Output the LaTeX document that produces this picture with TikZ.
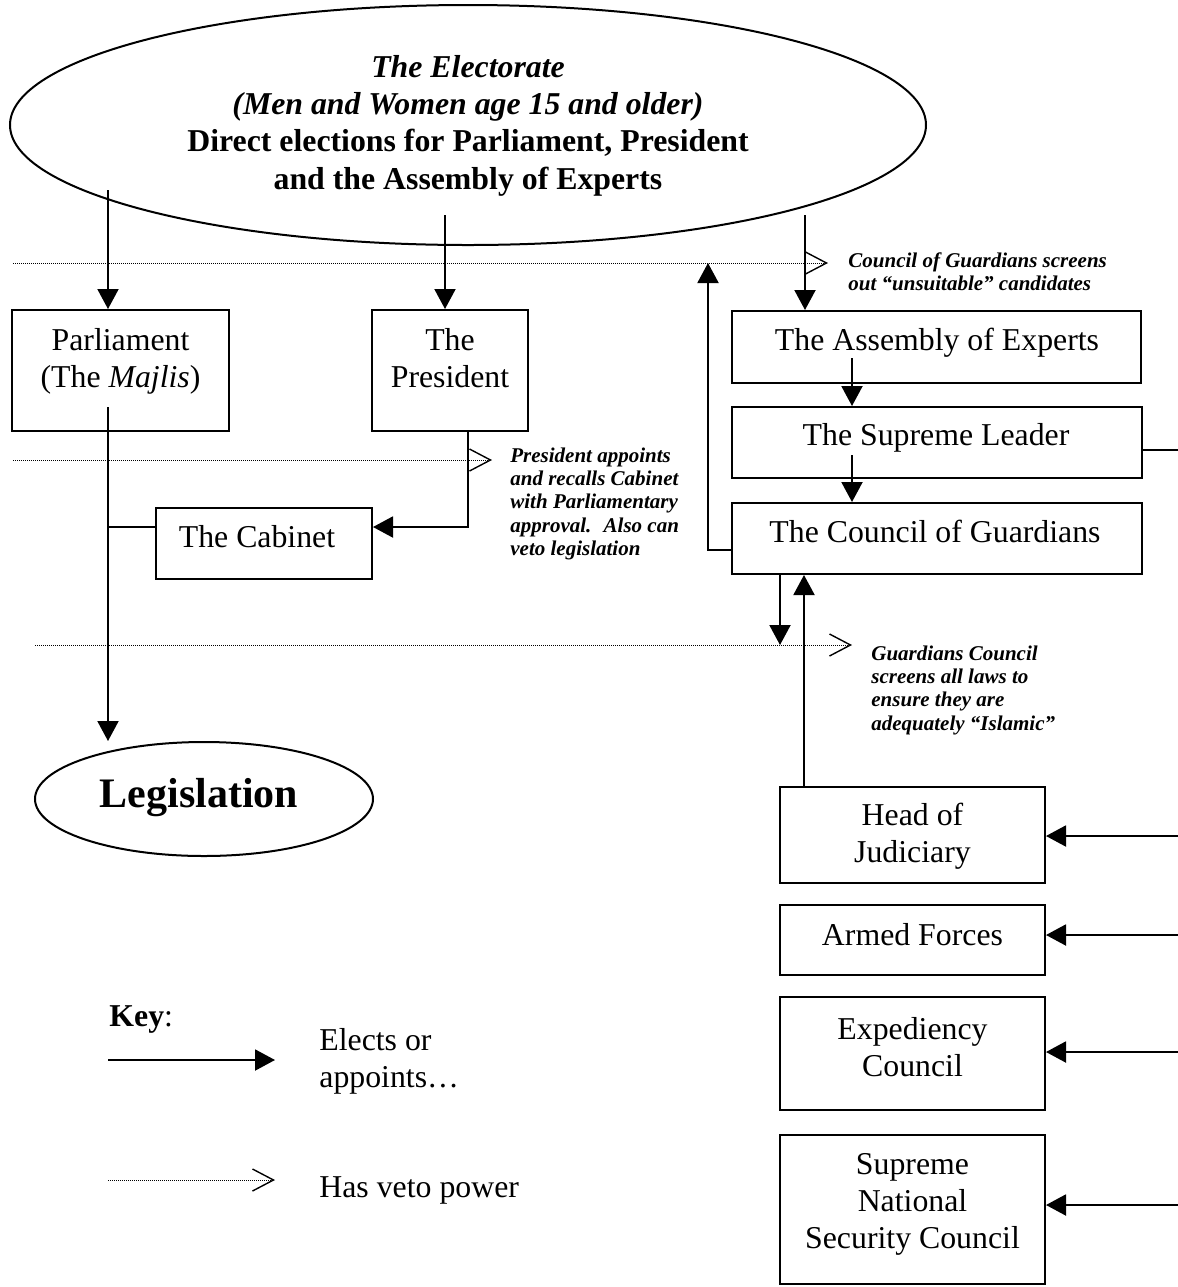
\documentclass[tikz,border=0pt]{standalone}
\usepackage{fontspec}
\setmainfont{Liberation Serif}
\usetikzlibrary{arrows.meta,shapes.geometric}
\newcommand{\mlc}[1]{\begin{tabular}[t]{@{}c@{}}#1\end{tabular}}
\newcommand{\mll}[1]{\begin{tabular}[t]{@{}l@{}}#1\end{tabular}}
\begin{document}
\begin{tikzpicture}[x=0.5pt,y=-0.5pt,
  box/.style={draw, line width=1pt, rectangle, inner sep=0pt},
  oval/.style={draw, line width=1pt, ellipse, inner sep=0pt},
  lbl/.style={anchor=base, inner sep=0pt, font=\fontsize{15.9pt}{18.7pt}\selectfont},
  lbll/.style={anchor=base west, inner sep=0pt, font=\fontsize{15.9pt}{18.7pt}\selectfont},
  note/.style={anchor=base west, inner sep=0pt, font=\fontsize{10.5pt}{11.7pt}\selectfont\bfseries\itshape},
  conn/.style={line width=1pt},
  arr/.style={line width=1pt, -{Triangle[length=10pt,width=10.5pt]}},
  veto/.style={line width=0.5pt, dash pattern=on 0.5pt off 0.5pt, -{Straight Barb[length=10.5pt,width=11pt,line width=0.7pt]}}
]
\useasboundingbox (0,0) rectangle (1178,1287);

% ellipses
\node[oval, minimum width=458pt, minimum height=120pt] (elec) at (468,125) {};
\node[oval, minimum width=169pt, minimum height=57pt] (legis) at (204,799) {};

% boxes
\node[box, minimum width=108.5pt, minimum height=60.5pt] (parl) at (120.5,370.5) {};
\node[box, minimum width=78pt, minimum height=60.5pt] (pres) at (450,370.5) {};
\node[box, minimum width=108pt, minimum height=35.5pt] (cab) at (264,543.5) {};
\node[box, minimum width=204.5pt, minimum height=36pt] (aoe) at (936.5,347) {};
\node[box, minimum width=205pt, minimum height=35.5pt] (sl) at (937,442.5) {};
\node[box, minimum width=205pt, minimum height=35.5pt] (cog) at (937,538.5) {};
\node[box, minimum width=132.5pt, minimum height=48pt] (hoj) at (912.5,835) {};
\node[box, minimum width=132.5pt, minimum height=35pt] (af) at (912.5,940) {};
\node[box, minimum width=132.5pt, minimum height=56.5pt] (ec) at (912.5,1053.5) {};
\node[box, minimum width=132.5pt, minimum height=74.5pt] (snsc) at (912.5,1209.5) {};

% texts
\node[lbl] (elect) at (468,77) {\mlc{\bfseries\itshape The Electorate\\
  \bfseries\itshape (Men and Women age 15 and older)\\
  \bfseries Direct elections for Parliament, President\\
  \bfseries and the Assembly of Experts}};
\node[lbl] (parlt) at (120.5,350) {\mlc{Parliament\\(The \textit{Majlis})}};
\node[lbl] (prest) at (450,350) {\mlc{The\\President}};
\node[lbl] (cabt) at (257,547) {The Cabinet};
\node[lbl] (aoet) at (937,350) {The Assembly of Experts};
\node[lbl] (slt) at (936,445) {The Supreme Leader};
\node[lbl] (cogt) at (935,542) {The Council of Guardians};
\node[lbl] (hojt) at (912.5,825) {\mlc{Head of\\Judiciary}};
\node[lbl] (aft) at (912.5,945) {Armed Forces};
\node[lbl] (ect) at (912.5,1039) {\mlc{Expediency\\Council}};
\node[lbl] (snsct) at (912.5,1174) {\mlc{Supreme\\National\\Security Council}};
\node[anchor=base, inner sep=0pt, font=\fontsize{21pt}{24pt}\selectfont\bfseries] (legist) at (199,807) {Legislation};

% notes
\node[note] (n1) at (848,267) {\mll{Council of Guardians screens\\out “unsuitable” candidates}};
\node[note] (n2) at (510,462) {\mll{President appoints\\and recalls Cabinet\\with Parliamentary\\approval.~ Also can\\veto legislation}};
\node[note] (n3) at (871,660) {\mll{Guardians Council\\screens all laws to\\ensure they are\\adequately “Islamic”}};

% veto lines
\coordinate (v1s) at (13,263); \coordinate (v1e) at (828,263);
\coordinate (v2s) at (13,460); \coordinate (v2e) at (492,460);
\coordinate (v3s) at (35,645); \coordinate (v3e) at (852,645);
\draw[veto] (v1s) -- (v1e);
\draw[veto] (v2s) -- (v2e);
\draw[veto] (v3s) -- (v3e);

% connectors
\coordinate (e1) at (108,190);
\coordinate (e2) at (445,215);
\coordinate (e3) at (805,215);
\draw[arr] (e1) -- (e1 |- parl.north);
\draw[arr] (e2) -- (e2 |- pres.north);
\draw[arr] (e3) -- (e3 |- aoe.north);
\coordinate (a1) at (852,358);
\draw[arr] (a1) -- (a1 |- sl.north);
\coordinate (s1) at (852,455);
\draw[arr] (s1) -- (s1 |- cog.north);
\coordinate (g1) at (708,550);
\coordinate (g2) at (708,263);
\draw[arr] (cog.west |- g1) -- (g1) -- (g2);
\coordinate (g3) at (780,645);
\draw[arr] (g3 |- cog.south) -- (g3);
\coordinate (h1) at (804,700);
\draw[arr] (h1 |- hoj.north) -- (h1 |- cog.south);
\coordinate (p1) at (468,527);
\draw[arr] (p1 |- pres.south) -- (p1) -- (cab.east |- p1);
\coordinate (m1) at (108,407);
\draw[arr] (m1) -- (m1 |- legis.north);
\draw[conn] (cab.west |- p1) -- (m1 |- p1);
\coordinate (r0) at (1178,450);
\draw[conn] (sl.east |- r0) -- (r0);
\coordinate (r1) at (1178,836);
\coordinate (r2) at (1178,935);
\coordinate (r3) at (1178,1052);
\coordinate (r4) at (1178,1205);
\draw[arr] (r1) -- (hoj.east |- r1);
\draw[arr] (r2) -- (af.east |- r2);
\draw[arr] (r3) -- (ec.east |- r3);
\draw[arr] (r4) -- (snsc.east |- r4);

% key
\node[lbll] (key) at (109,1026) {\textbf{Key}:};
\coordinate (k1s) at (108,1060); \coordinate (k1e) at (275,1060);
\draw[arr] (k1s) -- (k1e);
\node[lbll] (k1t) at (319,1050) {\mll{Elects or\\appoints…}};
\coordinate (k2s) at (108,1180); \coordinate (k2e) at (275,1180);
\draw[veto] (k2s) -- (k2e);
\node[lbll] (k2t) at (319,1197) {Has veto power};
\end{tikzpicture}
\end{document}
